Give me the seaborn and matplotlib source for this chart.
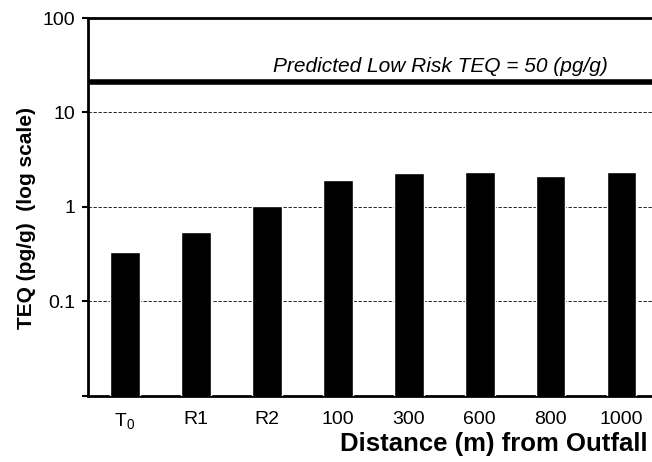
import matplotlib
matplotlib.use("Agg")
import matplotlib.pyplot as plt
import matplotlib.ticker as mticker
import seaborn as sns
import pandas as pd

# values
sites = ["T$_0$", "R1", "R2", "100", "300", "600", "800", "1000"]
teq = [0.33, 0.54, 1.02, 1.91, 2.27, 2.34, 2.15, 2.34]
low_risk_line = 21
ytick_vals = [0.01, 0.1, 1, 10, 100]
ytick_labels = ["", "0.1", "1", "10", "100"]

sns.set_style("white")
plt.rcParams["font.family"] = ["Liberation Sans", "DejaVu Sans"]
plt.rcParams["mathtext.default"] = "regular"
for key in ["text.color", "axes.labelcolor", "xtick.color", "ytick.color"]:
    plt.rcParams[key] = "black"

df = pd.DataFrame({"site": sites, "teq": teq})

fig = plt.figure(figsize=(6.52, 4.62), dpi=100)
ax = fig.add_axes([0.135, 0.143, 0.865, 0.818])
ax.set_yscale("log")

sns.barplot(data=df, x="site", y="teq", color="black", width=0.42,
            saturation=1, ax=ax, zorder=3)

ax.set_ylim(0.01, 100)
ax.set_xlim(-0.52, 7.43)

ax.yaxis.set_major_locator(mticker.FixedLocator(ytick_vals))
ax.yaxis.set_major_formatter(mticker.FixedFormatter(ytick_labels))
ax.yaxis.set_minor_locator(mticker.NullLocator())
ax.tick_params(axis="y", left=True, length=4, width=1.5, direction="out",
               labelsize=14, pad=5)
ax.tick_params(axis="x", bottom=False, labelsize=14, pad=7)

for v in [0.1, 1, 10]:
    ax.axhline(v, color="black", lw=0.6, ls=(0, (4, 2)), zorder=1)

ax.axhline(low_risk_line, color="black", lw=4, zorder=4)
ax.text(0.922, 0.873, "Predicted Low Risk TEQ = 50 (pg/g)", transform=ax.transAxes,
        ha="right", va="center", style="italic", fontsize=15)

for side in ["left", "bottom", "top"]:
    ax.spines[side].set_linewidth(2)
    ax.spines[side].set_color("black")
ax.spines["right"].set_visible(False)

ax.set_ylabel("TEQ (pg/g)  (log scale)", fontsize=15, fontweight="bold")
ax.yaxis.set_label_coords(-0.092, 0.471)
ax.set_xlabel("")
fig.text(0.994, 0.039, "Distance (m) from Outfall", ha="right", va="center",
         fontsize=18.5, fontweight="bold")

fig.savefig("out.png", dpi=100)
